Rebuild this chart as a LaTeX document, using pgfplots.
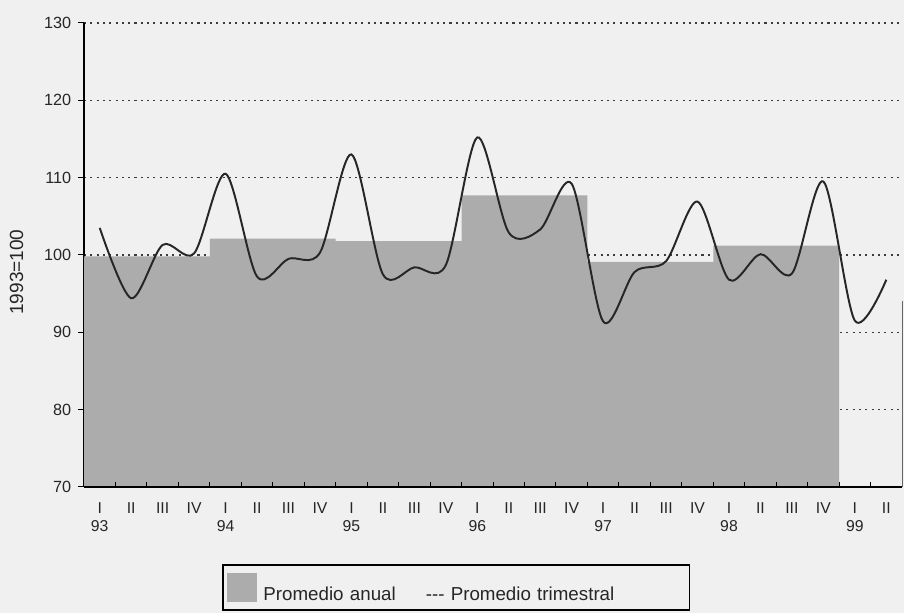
\documentclass[border=0pt]{standalone}
\usepackage{pgfplots}
\pgfplotsset{compat=1.18}
\usepackage{fontspec}
\setmainfont{Liberation Sans}
\definecolor{bargray}{RGB}{172,172,172}
\definecolor{paper}{RGB}{240,240,240}
\definecolor{gridc}{RGB}{60,60,60}
\begin{document}
\begin{tikzpicture}
\fill[paper] (-56pt,-84pt) rectangle (546.6pt,324.6pt);
\begin{axis}[
  at={(0,0)}, anchor=south west,
  scale only axis, width=545.3pt, height=309.3pt,
  xmin=0, xmax=26, ymin=70, ymax=130,
  axis x line*=bottom, axis y line*=left,
  axis line style={black, line width=0.9pt},
  ytick={70,80,...,130},
  xtick={0.5,1.5,...,25.5},
  xticklabels={I\\93,II,III,IV,I\\94,II,III,IV,I\\95,II,III,IV,I\\96,II,III,IV,I\\97,II,III,IV,I\\98,II,III,IV,I\\99,II},
  every major x tick/.append style={draw=none},
  major tick length=4pt,
  tick align=outside,
  tick style={black, line width=0.7pt},
  xticklabel style={font=\fontsize{10.5}{12}\selectfont, align=center, yshift=-3pt, text=black!85},
  yticklabel style={font=\fontsize{10.8}{12}\selectfont, text=black!85, xshift=-1pt},
  /pgf/number format/assume math mode=true,
  ymajorgrids,
  major grid style={gridc, line width=0.8pt, dash pattern=on 1.4pt off 2.8pt},
  ylabel={1993=100},
  ylabel style={at={(axis description cs:-0.0825,0.463)}, anchor=center, font=\fontsize{12.7}{14}\selectfont, text=black!85},
  clip=false,
]
\addplot[fill=bargray, draw=none, const plot] coordinates {
  (0,99.8) (4,102.1) (8,101.8) (12,107.7) (16,99.1) (20,101.2) (24,101.2)
} \closedcycle;
\addplot[black!85, line width=1.3pt, smooth] coordinates {
  (0.5,103.5) (1.5,94.4) (2.5,101.3) (3.5,100.2)
  (4.5,110.5) (5.5,97.2) (6.5,99.5) (7.5,100.3)
  (8.5,113.0) (9.5,97.5) (10.5,98.4) (11.5,98.7)
  (12.5,115.2) (13.5,102.9) (14.5,103.3) (15.5,109.2)
  (16.5,91.4) (17.5,97.8) (18.5,99.2) (19.5,106.9)
  (20.5,96.8) (21.5,100.1) (22.5,97.6) (23.5,109.5)
  (24.5,91.5) (25.5,96.8)
};
\pgfplotsinvokeforeach{1,...,25}{
  \draw[black, line width=0.7pt] (axis cs:#1,70) -- ++(0pt,3pt);
}
\draw[black, line width=0.9pt] (rel axis cs:0,0) -- (rel axis cs:1,0);
\draw[black!60, line width=0.6pt] (rel axis cs:1,0) -- (rel axis cs:1,0.4);
\end{axis}
\node[draw=black, line width=1.2pt, anchor=west, text width=305pt, align=left,
      inner xsep=3pt, minimum height=30pt, font=\fontsize{12.5}{15}\selectfont, text=black!85]
  at (92pt,-67pt) {\textcolor{bargray}{\rule[-1pt]{20pt}{19pt}}\hspace{4pt}Promedio anual\hspace{20pt}{-}{-}{-} Promedio trimestral};
\end{tikzpicture}
\end{document}
